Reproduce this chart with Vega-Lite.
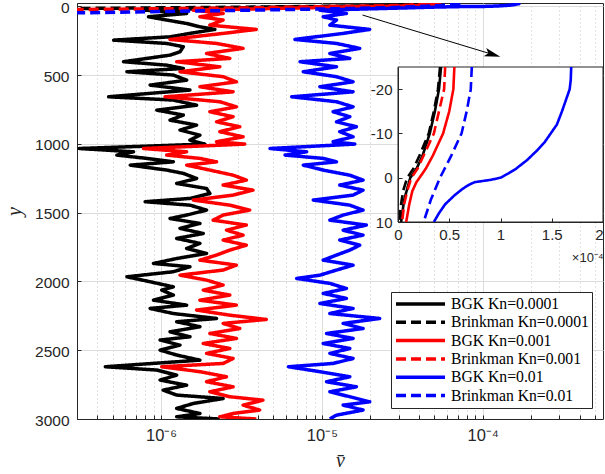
{
"$schema":"https://vega.github.io/schema/vega-lite/v6.json",
"width":526,"height":416,"autosize":"none",
"padding":{"left":77,"top":3,"right":2,"bottom":55},
"background":"white",
"config":{"view":{"stroke":"#262626","strokeWidth":1},"font":"Liberation Sans",
 "axis":{"labelFont":"Liberation Sans","labelColor":"#262626","labelFontSize":15,"domainColor":"#262626","tickColor":"#262626","labelFlush":false,"labelOverlap":false}},
"datasets":{
"prof":[
{"s":"BGK Kn=0.0001","y":-25,"v":4.2e-5},{"s":"BGK Kn=0.0001","y":-20,"v":4.0e-5},{"s":"BGK Kn=0.0001","y":-15,"v":3.6e-5},{"s":"BGK Kn=0.0001","y":-10,"v":3.1e-5},{"s":"BGK Kn=0.0001","y":-5,"v":2.4e-5},{"s":"BGK Kn=0.0001","y":-2,"v":1.8e-5},{"s":"BGK Kn=0.0001","y":0,"v":1.2e-5},{"s":"BGK Kn=0.0001","y":5,"v":6e-6},{"s":"BGK Kn=0.0001","y":10,"v":3e-6},
{"s":"BGK Kn=0.0001","y":27,"v":7.96e-7},{"s":"BGK Kn=0.0001","y":51,"v":1.442e-6},{"s":"BGK Kn=0.0001","y":75,"v":8.35e-7},{"s":"BGK Kn=0.0001","y":99,"v":1.084e-6},{"s":"BGK Kn=0.0001","y":124,"v":1.442e-6},{"s":"BGK Kn=0.0001","y":148,"v":1.744e-6},{"s":"BGK Kn=0.0001","y":167,"v":2.16e-6},{"s":"BGK Kn=0.0001","y":196,"v":1.512e-6},{"s":"BGK Kn=0.0001","y":221,"v":1.137e-6},{"s":"BGK Kn=0.0001","y":245,"v":5.07e-7},{"s":"BGK Kn=0.0001","y":269,"v":1.084e-6},{"s":"BGK Kn=0.0001","y":293,"v":1.375e-6},{"s":"BGK Kn=0.0001","y":330,"v":1.311e-6},{"s":"BGK Kn=0.0001","y":354,"v":1.137e-6},{"s":"BGK Kn=0.0001","y":402,"v":5.84e-7},{"s":"BGK Kn=0.0001","y":427,"v":1.084e-6},{"s":"BGK Kn=0.0001","y":451,"v":1.375e-6},{"s":"BGK Kn=0.0001","y":475,"v":6.13e-7},{"s":"BGK Kn=0.0001","y":499,"v":1.192e-6},{"s":"BGK Kn=0.0001","y":536,"v":1.442e-6},{"s":"BGK Kn=0.0001","y":572,"v":8.55e-7},{"s":"BGK Kn=0.0001","y":608,"v":1.512e-6},{"s":"BGK Kn=0.0001","y":657,"v":4.72e-7},{"s":"BGK Kn=0.0001","y":681,"v":1.192e-6},{"s":"BGK Kn=0.0001","y":718,"v":1.663e-6},{"s":"BGK Kn=0.0001","y":754,"v":9.4e-7},{"s":"BGK Kn=0.0001","y":790,"v":1.375e-6},{"s":"BGK Kn=0.0001","y":827,"v":1.137e-6},{"s":"BGK Kn=0.0001","y":863,"v":1.663e-6},{"s":"BGK Kn=0.0001","y":899,"v":1.311e-6},{"s":"BGK Kn=0.0001","y":936,"v":1.744e-6},{"s":"BGK Kn=0.0001","y":972,"v":1.512e-6},{"s":"BGK Kn=0.0001","y":1001,"v":1.873e-6},{"s":"BGK Kn=0.0001","y":1033,"v":3.1e-7},{"s":"BGK Kn=0.0001","y":1057,"v":6.74e-7},{"s":"BGK Kn=0.0001","y":1081,"v":5.31e-7},{"s":"BGK Kn=0.0001","y":1105,"v":8.15e-7},{"s":"BGK Kn=0.0001","y":1130,"v":1.192e-6},{"s":"BGK Kn=0.0001","y":1154,"v":6.43e-7},{"s":"BGK Kn=0.0001","y":1190,"v":1.084e-6},{"s":"BGK Kn=0.0001","y":1214,"v":1.375e-6},{"s":"BGK Kn=0.0001","y":1251,"v":1.663e-6},{"s":"BGK Kn=0.0001","y":1287,"v":1.25e-6},{"s":"BGK Kn=0.0001","y":1324,"v":1.918e-6},{"s":"BGK Kn=0.0001","y":1360,"v":2.011e-6},{"s":"BGK Kn=0.0001","y":1396,"v":1.512e-6},{"s":"BGK Kn=0.0001","y":1420,"v":7.96e-7},{"s":"BGK Kn=0.0001","y":1445,"v":1.512e-6},{"s":"BGK Kn=0.0001","y":1481,"v":1.918e-6},{"s":"BGK Kn=0.0001","y":1517,"v":1.442e-6},{"s":"BGK Kn=0.0001","y":1542,"v":1.137e-6},{"s":"BGK Kn=0.0001","y":1578,"v":1.744e-6},{"s":"BGK Kn=0.0001","y":1614,"v":1.311e-6},{"s":"BGK Kn=0.0001","y":1651,"v":1.829e-6},{"s":"BGK Kn=0.0001","y":1687,"v":1.25e-6},{"s":"BGK Kn=0.0001","y":1723,"v":1.744e-6},{"s":"BGK Kn=0.0001","y":1760,"v":1.442e-6},{"s":"BGK Kn=0.0001","y":1796,"v":1.918e-6},{"s":"BGK Kn=0.0001","y":1833,"v":1.25e-6},{"s":"BGK Kn=0.0001","y":1869,"v":8.97e-7},{"s":"BGK Kn=0.0001","y":1893,"v":1.512e-6},{"s":"BGK Kn=0.0001","y":1929,"v":1.192e-6},{"s":"BGK Kn=0.0001","y":1966,"v":6.13e-7},{"s":"BGK Kn=0.0001","y":2002,"v":8.55e-7},{"s":"BGK Kn=0.0001","y":2039,"v":1.192e-6},{"s":"BGK Kn=0.0001","y":2063,"v":1.009e-6},{"s":"BGK Kn=0.0001","y":2099,"v":1.192e-6},{"s":"BGK Kn=0.0001","y":2136,"v":8.97e-7},{"s":"BGK Kn=0.0001","y":2172,"v":1.442e-6},{"s":"BGK Kn=0.0001","y":2196,"v":8.55e-7},{"s":"BGK Kn=0.0001","y":2233,"v":1.192e-6},{"s":"BGK Kn=0.0001","y":2269,"v":2.212e-6},{"s":"BGK Kn=0.0001","y":2293,"v":1.25e-6},{"s":"BGK Kn=0.0001","y":2329,"v":1.744e-6},{"s":"BGK Kn=0.0001","y":2366,"v":1.137e-6},{"s":"BGK Kn=0.0001","y":2402,"v":1.512e-6},{"s":"BGK Kn=0.0001","y":2426,"v":9.86e-7},{"s":"BGK Kn=0.0001","y":2463,"v":1.311e-6},{"s":"BGK Kn=0.0001","y":2499,"v":9.86e-7},{"s":"BGK Kn=0.0001","y":2535,"v":1.25e-6},{"s":"BGK Kn=0.0001","y":2572,"v":1.744e-6},{"s":"BGK Kn=0.0001","y":2620,"v":4.5e-7},{"s":"BGK Kn=0.0001","y":2644,"v":9.4e-7},{"s":"BGK Kn=0.0001","y":2681,"v":1.25e-6},{"s":"BGK Kn=0.0001","y":2717,"v":9.86e-7},{"s":"BGK Kn=0.0001","y":2754,"v":1.442e-6},{"s":"BGK Kn=0.0001","y":2790,"v":1.03e-6},{"s":"BGK Kn=0.0001","y":2826,"v":1.25e-6},{"s":"BGK Kn=0.0001","y":2851,"v":2.432e-6},{"s":"BGK Kn=0.0001","y":2887,"v":1.586e-6},{"s":"BGK Kn=0.0001","y":2923,"v":1.25e-6},{"s":"BGK Kn=0.0001","y":2960,"v":1.744e-6},{"s":"BGK Kn=0.0001","y":2984,"v":1.25e-6},{"s":"BGK Kn=0.0001","y":3000,"v":2.32e-6},
{"s":"Brinkman Kn=0.0001","y":-25,"v":4.1e-5},{"s":"Brinkman Kn=0.0001","y":-20,"v":3.9e-5},{"s":"Brinkman Kn=0.0001","y":-15,"v":3.5e-5},{"s":"Brinkman Kn=0.0001","y":-10,"v":3.0e-5},{"s":"Brinkman Kn=0.0001","y":-5,"v":2.1e-5},{"s":"Brinkman Kn=0.0001","y":-2,"v":1.5e-5},{"s":"Brinkman Kn=0.0001","y":0,"v":9e-6},{"s":"Brinkman Kn=0.0001","y":3,"v":5e-6},{"s":"Brinkman Kn=0.0001","y":6,"v":3e-6},{"s":"Brinkman Kn=0.0001","y":10,"v":1e-6},{"s":"Brinkman Kn=0.0001","y":15,"v":3e-7},{"s":"Brinkman Kn=0.0001","y":20,"v":1e-7},
{"s":"BGK Kn=0.001","y":-25,"v":5.5e-5},{"s":"BGK Kn=0.001","y":-20,"v":5.4e-5},{"s":"BGK Kn=0.001","y":-15,"v":5.0e-5},{"s":"BGK Kn=0.001","y":-10,"v":4.4e-5},{"s":"BGK Kn=0.001","y":-5,"v":3.4e-5},{"s":"BGK Kn=0.001","y":-2,"v":2.7e-5},{"s":"BGK Kn=0.001","y":0,"v":2.1e-5},{"s":"BGK Kn=0.001","y":1,"v":1.8e-5},{"s":"BGK Kn=0.001","y":3,"v":1.4e-5},{"s":"BGK Kn=0.001","y":6,"v":1.1e-5},{"s":"BGK Kn=0.001","y":10,"v":8e-6},
{"s":"BGK Kn=0.001","y":27,"v":1.586e-6},{"s":"BGK Kn=0.001","y":51,"v":2.432e-6},{"s":"BGK Kn=0.001","y":75,"v":1.744e-6},{"s":"BGK Kn=0.001","y":99,"v":2.432e-6},{"s":"BGK Kn=0.001","y":136,"v":2.011e-6},{"s":"BGK Kn=0.001","y":167,"v":3.912e-6},{"s":"BGK Kn=0.001","y":196,"v":2.432e-6},{"s":"BGK Kn=0.001","y":240,"v":1.137e-6},{"s":"BGK Kn=0.001","y":269,"v":2.212e-6},{"s":"BGK Kn=0.001","y":305,"v":3.235e-6},{"s":"BGK Kn=0.001","y":342,"v":1.918e-6},{"s":"BGK Kn=0.001","y":378,"v":2.675e-6},{"s":"BGK Kn=0.001","y":402,"v":1.25e-6},{"s":"BGK Kn=0.001","y":439,"v":2.32e-6},{"s":"BGK Kn=0.001","y":475,"v":1.311e-6},{"s":"BGK Kn=0.001","y":511,"v":2.432e-6},{"s":"BGK Kn=0.001","y":548,"v":2.942e-6},{"s":"BGK Kn=0.001","y":584,"v":1.744e-6},{"s":"BGK Kn=0.001","y":621,"v":2.805e-6},{"s":"BGK Kn=0.001","y":657,"v":1.059e-6},{"s":"BGK Kn=0.001","y":693,"v":2.32e-6},{"s":"BGK Kn=0.001","y":730,"v":2.942e-6},{"s":"BGK Kn=0.001","y":766,"v":2.011e-6},{"s":"BGK Kn=0.001","y":802,"v":2.805e-6},{"s":"BGK Kn=0.001","y":839,"v":2.212e-6},{"s":"BGK Kn=0.001","y":875,"v":3.085e-6},{"s":"BGK Kn=0.001","y":911,"v":2.32e-6},{"s":"BGK Kn=0.001","y":948,"v":3.235e-6},{"s":"BGK Kn=0.001","y":984,"v":2.212e-6},{"s":"BGK Kn=0.001","y":1001,"v":3.313e-6},{"s":"BGK Kn=0.001","y":1033,"v":7.77e-7},{"s":"BGK Kn=0.001","y":1057,"v":1.442e-6},{"s":"BGK Kn=0.001","y":1081,"v":1.084e-6},{"s":"BGK Kn=0.001","y":1105,"v":1.744e-6},{"s":"BGK Kn=0.001","y":1130,"v":2.212e-6},{"s":"BGK Kn=0.001","y":1154,"v":1.442e-6},{"s":"BGK Kn=0.001","y":1190,"v":2.011e-6},{"s":"BGK Kn=0.001","y":1227,"v":2.805e-6},{"s":"BGK Kn=0.001","y":1263,"v":3.392e-6},{"s":"BGK Kn=0.001","y":1299,"v":2.432e-6},{"s":"BGK Kn=0.001","y":1336,"v":3.73e-6},{"s":"BGK Kn=0.001","y":1372,"v":2.805e-6},{"s":"BGK Kn=0.001","y":1408,"v":1.586e-6},{"s":"BGK Kn=0.001","y":1445,"v":2.675e-6},{"s":"BGK Kn=0.001","y":1481,"v":3.557e-6},{"s":"BGK Kn=0.001","y":1517,"v":2.432e-6},{"s":"BGK Kn=0.001","y":1554,"v":2.109e-6},{"s":"BGK Kn=0.001","y":1590,"v":3.392e-6},{"s":"BGK Kn=0.001","y":1627,"v":2.551e-6},{"s":"BGK Kn=0.001","y":1663,"v":3.235e-6},{"s":"BGK Kn=0.001","y":1699,"v":2.432e-6},{"s":"BGK Kn=0.001","y":1736,"v":3.392e-6},{"s":"BGK Kn=0.001","y":1772,"v":2.675e-6},{"s":"BGK Kn=0.001","y":1808,"v":2.212e-6},{"s":"BGK Kn=0.001","y":1845,"v":1.744e-6},{"s":"BGK Kn=0.001","y":1881,"v":2.942e-6},{"s":"BGK Kn=0.001","y":1917,"v":2.432e-6},{"s":"BGK Kn=0.001","y":1954,"v":1.311e-6},{"s":"BGK Kn=0.001","y":1990,"v":1.918e-6},{"s":"BGK Kn=0.001","y":2026,"v":2.432e-6},{"s":"BGK Kn=0.001","y":2063,"v":1.829e-6},{"s":"BGK Kn=0.001","y":2099,"v":2.675e-6},{"s":"BGK Kn=0.001","y":2136,"v":1.744e-6},{"s":"BGK Kn=0.001","y":2172,"v":2.942e-6},{"s":"BGK Kn=0.001","y":2208,"v":1.663e-6},{"s":"BGK Kn=0.001","y":2245,"v":2.675e-6},{"s":"BGK Kn=0.001","y":2276,"v":4.511e-6},{"s":"BGK Kn=0.001","y":2305,"v":2.432e-6},{"s":"BGK Kn=0.001","y":2342,"v":3.085e-6},{"s":"BGK Kn=0.001","y":2378,"v":2.011e-6},{"s":"BGK Kn=0.001","y":2414,"v":2.942e-6},{"s":"BGK Kn=0.001","y":2451,"v":1.829e-6},{"s":"BGK Kn=0.001","y":2487,"v":2.675e-6},{"s":"BGK Kn=0.001","y":2523,"v":1.918e-6},{"s":"BGK Kn=0.001","y":2560,"v":2.805e-6},{"s":"BGK Kn=0.001","y":2596,"v":2.432e-6},{"s":"BGK Kn=0.001","y":2620,"v":1.009e-6},{"s":"BGK Kn=0.001","y":2656,"v":1.744e-6},{"s":"BGK Kn=0.001","y":2693,"v":2.551e-6},{"s":"BGK Kn=0.001","y":2729,"v":1.918e-6},{"s":"BGK Kn=0.001","y":2766,"v":2.805e-6},{"s":"BGK Kn=0.001","y":2802,"v":2.011e-6},{"s":"BGK Kn=0.001","y":2838,"v":2.675e-6},{"s":"BGK Kn=0.001","y":2863,"v":4.301e-6},{"s":"BGK Kn=0.001","y":2899,"v":3.235e-6},{"s":"BGK Kn=0.001","y":2935,"v":4.102e-6},{"s":"BGK Kn=0.001","y":2960,"v":2.805e-6},{"s":"BGK Kn=0.001","y":2984,"v":2.32e-6},{"s":"BGK Kn=0.001","y":3000,"v":3.912e-6},
{"s":"Brinkman Kn=0.001","y":-25,"v":4.6e-5},{"s":"Brinkman Kn=0.001","y":-20,"v":4.5e-5},{"s":"Brinkman Kn=0.001","y":-15,"v":4.0e-5},{"s":"Brinkman Kn=0.001","y":-10,"v":3.5e-5},{"s":"Brinkman Kn=0.001","y":-5,"v":2.5e-5},{"s":"Brinkman Kn=0.001","y":-2,"v":1.9e-5},{"s":"Brinkman Kn=0.001","y":0,"v":1.3e-5},{"s":"Brinkman Kn=0.001","y":3,"v":9e-6},{"s":"Brinkman Kn=0.001","y":6,"v":6e-6},{"s":"Brinkman Kn=0.001","y":10,"v":4e-6},{"s":"Brinkman Kn=0.001","y":15,"v":1.5e-6},{"s":"Brinkman Kn=0.001","y":20,"v":5e-7},{"s":"Brinkman Kn=0.001","y":25,"v":1.5e-7},
{"s":"BGK Kn=0.01","y":-25,"v":1.69e-4},{"s":"BGK Kn=0.01","y":-22,"v":1.685e-4},{"s":"BGK Kn=0.01","y":-20,"v":1.675e-4},{"s":"BGK Kn=0.01","y":-17,"v":1.63e-4},{"s":"BGK Kn=0.01","y":-15,"v":1.6e-4},{"s":"BGK Kn=0.01","y":-12,"v":1.55e-4},{"s":"BGK Kn=0.01","y":-10,"v":1.49e-4},{"s":"BGK Kn=0.01","y":-8,"v":1.43e-4},{"s":"BGK Kn=0.01","y":-6,"v":1.35e-4},{"s":"BGK Kn=0.01","y":-4,"v":1.26e-4},{"s":"BGK Kn=0.01","y":-2,"v":1.15e-4},{"s":"BGK Kn=0.01","y":-1,"v":1.08e-4},{"s":"BGK Kn=0.01","y":0,"v":1.0e-4},{"s":"BGK Kn=0.01","y":0.5,"v":9e-5},{"s":"BGK Kn=0.01","y":1,"v":7.5e-5},{"s":"BGK Kn=0.01","y":1.5,"v":7.0e-5},{"s":"BGK Kn=0.01","y":2.5,"v":6.3e-5},{"s":"BGK Kn=0.01","y":4,"v":5.5e-5},{"s":"BGK Kn=0.01","y":6,"v":4.6e-5},{"s":"BGK Kn=0.01","y":8,"v":4.0e-5},{"s":"BGK Kn=0.01","y":10,"v":3.5e-5},
{"s":"BGK Kn=0.01","y":27,"v":9.72e-6},{"s":"BGK Kn=0.01","y":51,"v":1.421e-5},{"s":"BGK Kn=0.01","y":75,"v":1.019e-5},{"s":"BGK Kn=0.01","y":99,"v":1.233e-5},{"s":"BGK Kn=0.01","y":136,"v":1.121e-5},{"s":"BGK Kn=0.01","y":167,"v":1.983e-5},{"s":"BGK Kn=0.01","y":196,"v":1.356e-5},{"s":"BGK Kn=0.01","y":240,"v":6.8e-6},{"s":"BGK Kn=0.01","y":269,"v":1.233e-5},{"s":"BGK Kn=0.01","y":305,"v":1.719e-5},{"s":"BGK Kn=0.01","y":342,"v":1.121e-5},{"s":"BGK Kn=0.01","y":378,"v":1.491e-5},{"s":"BGK Kn=0.01","y":402,"v":7.31e-6},{"s":"BGK Kn=0.01","y":439,"v":1.233e-5},{"s":"BGK Kn=0.01","y":475,"v":7.66e-6},{"s":"BGK Kn=0.01","y":511,"v":1.233e-5},{"s":"BGK Kn=0.01","y":548,"v":1.563e-5},{"s":"BGK Kn=0.01","y":584,"v":9.72e-6},{"s":"BGK Kn=0.01","y":621,"v":1.563e-5},{"s":"BGK Kn=0.01","y":657,"v":6.49e-6},{"s":"BGK Kn=0.01","y":693,"v":1.233e-5},{"s":"BGK Kn=0.01","y":730,"v":1.563e-5},{"s":"BGK Kn=0.01","y":766,"v":1.175e-5},{"s":"BGK Kn=0.01","y":802,"v":1.491e-5},{"s":"BGK Kn=0.01","y":839,"v":1.233e-5},{"s":"BGK Kn=0.01","y":875,"v":1.639e-5},{"s":"BGK Kn=0.01","y":911,"v":1.292e-5},{"s":"BGK Kn=0.01","y":948,"v":1.563e-5},{"s":"BGK Kn=0.01","y":984,"v":1.175e-5},{"s":"BGK Kn=0.01","y":1001,"v":1.601e-5},{"s":"BGK Kn=0.01","y":1033,"v":4.76e-6},{"s":"BGK Kn=0.01","y":1057,"v":8.04e-6},{"s":"BGK Kn=0.01","y":1081,"v":5.9e-6},{"s":"BGK Kn=0.01","y":1105,"v":1.019e-5},{"s":"BGK Kn=0.01","y":1130,"v":1.233e-5},{"s":"BGK Kn=0.01","y":1154,"v":7.66e-6},{"s":"BGK Kn=0.01","y":1190,"v":1.019e-5},{"s":"BGK Kn=0.01","y":1227,"v":1.491e-5},{"s":"BGK Kn=0.01","y":1263,"v":1.803e-5},{"s":"BGK Kn=0.01","y":1299,"v":1.292e-5},{"s":"BGK Kn=0.01","y":1336,"v":1.803e-5},{"s":"BGK Kn=0.01","y":1372,"v":1.563e-5},{"s":"BGK Kn=0.01","y":1408,"v":8.84e-6},{"s":"BGK Kn=0.01","y":1445,"v":1.491e-5},{"s":"BGK Kn=0.01","y":1481,"v":1.803e-5},{"s":"BGK Kn=0.01","y":1517,"v":1.356e-5},{"s":"BGK Kn=0.01","y":1554,"v":1.121e-5},{"s":"BGK Kn=0.01","y":1590,"v":1.891e-5},{"s":"BGK Kn=0.01","y":1627,"v":1.356e-5},{"s":"BGK Kn=0.01","y":1663,"v":1.803e-5},{"s":"BGK Kn=0.01","y":1699,"v":1.292e-5},{"s":"BGK Kn=0.01","y":1736,"v":1.719e-5},{"s":"BGK Kn=0.01","y":1772,"v":1.491e-5},{"s":"BGK Kn=0.01","y":1808,"v":1.233e-5},{"s":"BGK Kn=0.01","y":1845,"v":1.019e-5},{"s":"BGK Kn=0.01","y":1881,"v":1.563e-5},{"s":"BGK Kn=0.01","y":1917,"v":1.233e-5},{"s":"BGK Kn=0.01","y":1954,"v":9.72e-6},{"s":"BGK Kn=0.01","y":1978,"v":6.97e-6},{"s":"BGK Kn=0.01","y":2014,"v":1.121e-5},{"s":"BGK Kn=0.01","y":2051,"v":1.421e-5},{"s":"BGK Kn=0.01","y":2087,"v":1.019e-5},{"s":"BGK Kn=0.01","y":2123,"v":1.421e-5},{"s":"BGK Kn=0.01","y":2160,"v":9.72e-6},{"s":"BGK Kn=0.01","y":2196,"v":1.563e-5},{"s":"BGK Kn=0.01","y":2233,"v":1.121e-5},{"s":"BGK Kn=0.01","y":2269,"v":2.287e-5},{"s":"BGK Kn=0.01","y":2305,"v":1.356e-5},{"s":"BGK Kn=0.01","y":2342,"v":1.803e-5},{"s":"BGK Kn=0.01","y":2378,"v":1.069e-5},{"s":"BGK Kn=0.01","y":2414,"v":1.563e-5},{"s":"BGK Kn=0.01","y":2451,"v":1.019e-5},{"s":"BGK Kn=0.01","y":2487,"v":1.491e-5},{"s":"BGK Kn=0.01","y":2523,"v":1.121e-5},{"s":"BGK Kn=0.01","y":2560,"v":1.563e-5},{"s":"BGK Kn=0.01","y":2596,"v":1.175e-5},{"s":"BGK Kn=0.01","y":2620,"v":6.19e-6},{"s":"BGK Kn=0.01","y":2656,"v":9.72e-6},{"s":"BGK Kn=0.01","y":2693,"v":1.491e-5},{"s":"BGK Kn=0.01","y":2729,"v":1.069e-5},{"s":"BGK Kn=0.01","y":2766,"v":1.639e-5},{"s":"BGK Kn=0.01","y":2802,"v":1.121e-5},{"s":"BGK Kn=0.01","y":2838,"v":1.491e-5},{"s":"BGK Kn=0.01","y":2875,"v":1.983e-5},{"s":"BGK Kn=0.01","y":2899,"v":1.356e-5},{"s":"BGK Kn=0.01","y":2935,"v":1.803e-5},{"s":"BGK Kn=0.01","y":2972,"v":1.233e-5},{"s":"BGK Kn=0.01","y":3000,"v":1.121e-5},
{"s":"Brinkman Kn=0.01","y":-25,"v":7.2e-5},{"s":"Brinkman Kn=0.01","y":-20,"v":7.1e-5},{"s":"Brinkman Kn=0.01","y":-15,"v":6.7e-5},{"s":"Brinkman Kn=0.01","y":-10,"v":6.2e-5},{"s":"Brinkman Kn=0.01","y":-5,"v":5.2e-5},{"s":"Brinkman Kn=0.01","y":0,"v":4.1e-5},{"s":"Brinkman Kn=0.01","y":5,"v":3.2e-5},{"s":"Brinkman Kn=0.01","y":10,"v":2.5e-5},{"s":"Brinkman Kn=0.01","y":15,"v":1.5e-5},{"s":"Brinkman Kn=0.01","y":20,"v":8e-6},{"s":"Brinkman Kn=0.01","y":30,"v":2.5e-6},{"s":"Brinkman Kn=0.01","y":40,"v":7e-7},{"s":"Brinkman Kn=0.01","y":50,"v":2e-7}
],
"arrow":[{"v":1.79e-5,"y":62.5,"v2":1.153e-4,"y2":349}],
"frame":[{"v":0,"v2":0.0002,"y":-25,"y2":10}]
},
"layer":[
{"layer":[
 {"data":{"name":"prof"},
  "mark":{"type":"line","clip":true,"strokeWidth":3.5,"strokeJoin":"round"},
  "encoding":{
   "x":{"field":"v","type":"quantitative","scale":{"type":"log","domain":[3e-7,5.6e-4],"nice":false},
    "axis":{"values":[3e-7,4e-7,5e-7,6e-7,7e-7,8e-7,9e-7,1e-6,2e-6,3e-6,4e-6,5e-6,6e-6,7e-6,8e-6,9e-6,1e-5,2e-5,3e-5,4e-5,5e-5,6e-5,7e-5,8e-5,9e-5,1e-4,2e-4,3e-4,4e-4,5e-4],
     "labelExpr":"abs(log(datum.value)/LN10 - round(log(datum.value)/LN10)) < 0.01 ? (round(log(datum.value)/LN10) == -6 ? '10⁻⁶' : round(log(datum.value)/LN10) == -5 ? '10⁻⁵' : '10⁻⁴') : ''",
     "labelFontSize":16.5,
     "grid":true,
     "gridColor":{"condition":{"test":"abs(log(datum.value)/LN10 - round(log(datum.value)/LN10)) < 0.01","value":"#dcdcdc"},"value":"#c4c4c4"},
     "gridDash":{"condition":{"test":"abs(log(datum.value)/LN10 - round(log(datum.value)/LN10)) < 0.01","value":[]},"value":[1,3]},
     "tickSize":-4,"labelPadding":12,
     "title":"v̄","titleFont":"Liberation Serif","titleFontStyle":"italic","titleFontWeight":"normal","titleFontSize":20,"titleColor":"#262626","titlePadding":7}},
   "y":{"field":"y","type":"quantitative","scale":{"domain":[-25,3000],"reverse":true,"nice":false,"zero":false},
    "axis":{"values":[0,500,1000,1500,2000,2500,3000],"format":"d","grid":true,"gridColor":"#dcdcdc","tickSize":-4,"labelPadding":12,"labelOffset":1,"labelFontSize":15.5,
     "title":"y","titleFont":"Liberation Serif","titleFontStyle":"italic","titleFontWeight":"normal","titleFontSize":20,"titleColor":"#262626","titlePadding":10}},
   "color":{"field":"s","type":"nominal",
    "scale":{"domain":["BGK Kn=0.0001","Brinkman Kn=0.0001","BGK Kn=0.001","Brinkman Kn=0.001","BGK Kn=0.01","Brinkman Kn=0.01"],"range":["#000000","#000000","#ff0000","#ff0000","#0000ff","#0000ff"]},
    "legend":{"orient":"none","legendX":314,"legendY":289,"title":null,"fillColor":"white","strokeColor":"#262626","padding":3,"symbolType":"stroke","symbolSize":2401,"symbolStrokeWidth":3.5,"clipHeight":18,"rowPadding":0.3,"labelFont":"Liberation Serif","labelFontSize":15.7,"labelColor":"black","labelOffset":4,"labelLimit":0}},
   "strokeDash":{"field":"s","type":"nominal",
    "scale":{"domain":["BGK Kn=0.0001","Brinkman Kn=0.0001","BGK Kn=0.001","Brinkman Kn=0.001","BGK Kn=0.01","Brinkman Kn=0.01"],"range":[[1,0],[10,5],[1,0],[10,5],[1,0],[10,5]]},
    "legend":{"orient":"none","legendX":314,"legendY":289,"title":null,"fillColor":"white","strokeColor":"#262626","padding":3,"symbolType":"stroke","symbolSize":2401,"symbolStrokeWidth":3.5,"clipHeight":18,"rowPadding":0.3,"labelFont":"Liberation Serif","labelFontSize":15.7,"labelColor":"black","labelOffset":4,"labelLimit":0}},
   "order":{"field":"y","type":"quantitative"}
  }},
 {"data":{"name":"arrow"},
  "mark":{"type":"rule","color":"black","strokeWidth":1},
  "encoding":{"x":{"field":"v","type":"quantitative","scale":{"type":"log","domain":[3e-7,5.6e-4],"nice":false}},"x2":{"field":"v2"},
   "y":{"field":"y","type":"quantitative","scale":{"domain":[-25,3000],"reverse":true,"nice":false,"zero":false}},"y2":{"field":"y2"}}},
 {"data":{"name":"arrow"},
  "mark":{"type":"point","shape":"M-1,-0.55L1,0L-1,0.55L-0.55,0Z","filled":true,"color":"black","opacity":1,"size":256,"angle":16.8},
  "encoding":{"x":{"field":"v2","type":"quantitative","scale":{"type":"log","domain":[3e-7,5.6e-4],"nice":false}},
   "y":{"field":"y2","type":"quantitative","scale":{"domain":[-25,3000],"reverse":true,"nice":false,"zero":false}}}}
]},
{"layer":[
 {"data":{"name":"frame"},
  "mark":{"type":"rect","fill":"white","stroke":"#262626","strokeWidth":1},
  "encoding":{"x":{"field":"v","type":"quantitative","scale":{"domain":[0,0.0002],"range":[321,526],"nice":false,"zero":false},
    "axis":{"orient":"bottom","offset":-197,"values":[0,5e-5,1e-4,1.5e-4,2e-4],"labelExpr":"format(datum.value*1e4,'.1~f')","grid":false,"tickSize":-4,"labelPadding":9,"zindex":1,
     "labelAlign":{"condition":{"test":"datum.value > 1.9e-4","value":"right"},"value":"center"},
     "title":"×10⁻⁴","titleAnchor":"end","titleFont":"Liberation Sans","titleFontSize":13,"titleFontWeight":"normal","titleColor":"#262626","titlePadding":9}},
   "x2":{"field":"v2"},
   "y":{"field":"y","type":"quantitative","scale":{"domain":[-25,10],"range":[64,219],"nice":false,"zero":false},
    "axis":{"orient":"left","offset":-321,"values":[-20,-10,0,10],"labelExpr":"'' + datum.value","grid":false,"tickSize":-4,"labelPadding":10,"zindex":1,"title":null}},
   "y2":{"field":"y2"}}},
 {"data":{"name":"prof"},
  "transform":[{"filter":"datum.y <= 10"}],
  "mark":{"type":"line","strokeWidth":2.6,"strokeJoin":"round"},
  "encoding":{"x":{"field":"v","type":"quantitative","scale":{"domain":[0,0.0002],"range":[321,526],"nice":false,"zero":false}},
   "y":{"field":"y","type":"quantitative","scale":{"domain":[-25,10],"range":[64,219],"nice":false,"zero":false}},
   "color":{"field":"s","type":"nominal"},
   "strokeDash":{"field":"s","type":"nominal"},
   "order":{"field":"y","type":"quantitative"}}}
]}
],
"resolve":{"scale":{"x":"independent","y":"independent"}}
}
